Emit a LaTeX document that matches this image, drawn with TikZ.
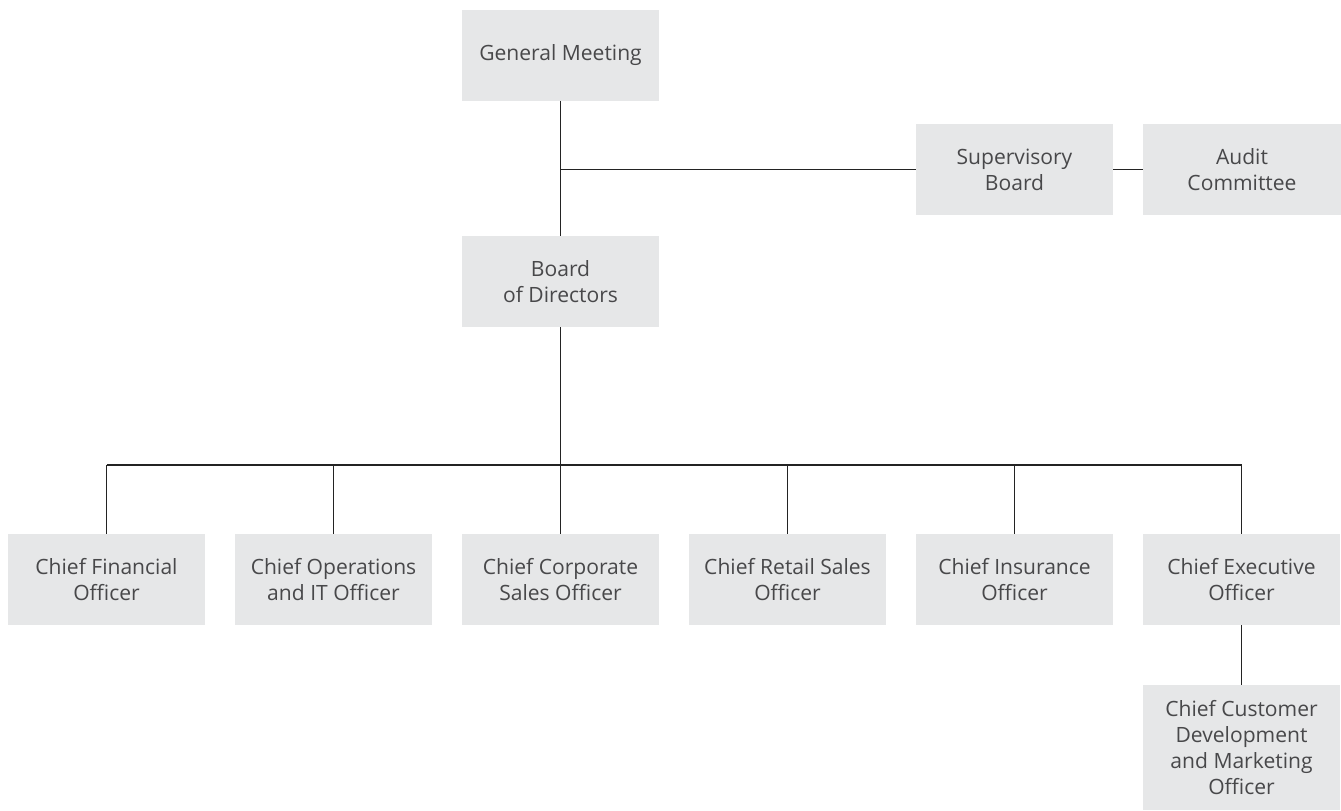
\documentclass[tikz,border=0pt]{standalone}
\usepackage{fontspec}
\setmainfont{Open Sans}
\usepackage{xcolor}
\definecolor{boxgray}{RGB}{230,231,232}
\definecolor{textgray}{RGB}{72,72,74}
\definecolor{linegray}{RGB}{35,35,35}

\begin{document}
\begin{tikzpicture}[x=0.75pt,y=0.75pt,yscale=-1,xscale=1,
    orgbox/.style={rectangle, fill=boxgray, text=textgray, minimum width=147.75pt, minimum height=68.25pt, inner sep=0pt, align=center, font=\fontsize{15.8}{19.5}\selectfont},
    orgline/.style={draw=linegray, line width=1.1pt}]

        \useasboundingbox (0,0) rectangle (1341,810);

        % top of the chart
        \node [orgbox] (meeting) at (560.5,55) {General Meeting};
        \node [orgbox] (board) at (560.5,281.5) {Board\\of Directors};
        \node [orgbox] (superv) at (1014.5,169.5) {Supervisory\\Board};
        \node [orgbox, minimum width=148.5pt] (audit) at (1242,169.5) {Audit\\Committee};

        % officers
        \node [orgbox] (cfo) at (106.5,579.5) {Chief Financial\\Officer};
        \node [orgbox] (coo) at (333.5,579.5) {Chief Operations\\and IT Officer};
        \node [orgbox] (ccso) at (560.5,579.5) {Chief Corporate\\Sales Officer};
        \node [orgbox] (crso) at (787.5,579.5) {Chief Retail Sales\\Officer};
        \node [orgbox] (cio) at (1014.5,579.5) {Chief Insurance\\Officer};
        \node [orgbox] (ceo) at (1241.5,579.5) {Chief Executive\\Officer};
        \node [orgbox, minimum height=93.75pt] (cdmo) at (1241.5,747.5) {Chief Customer\\Development\\and Marketing\\Officer};

        \coordinate (bus) at (560.5,465);

        \draw [orgline] (meeting) -- (board);
        \draw [orgline] (meeting |- superv.west) -- (superv.west);
        \draw [orgline] (superv) -- (audit);
        \draw [orgline] (board) -- (bus);
        \draw [orgline] (cfo.north |- bus) -- (ceo.north |- bus);
        \foreach \n in {cfo,coo,ccso,crso,cio,ceo}
            \draw [orgline] (\n.north) -- (\n.north |- bus);
        \draw [orgline] (ceo) -- (cdmo);
    \end{tikzpicture}
\end{document}
